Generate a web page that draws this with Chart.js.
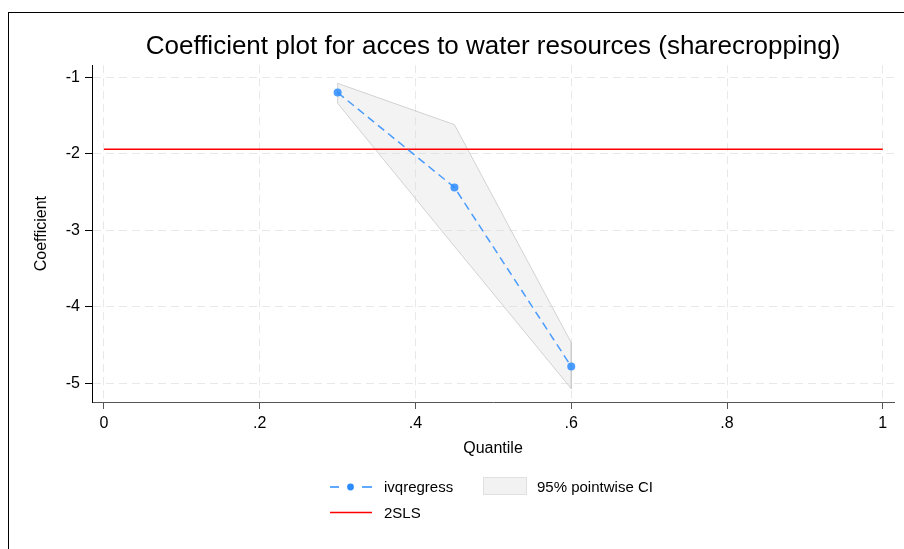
<!DOCTYPE html>
<html>
<head>
<meta charset="utf-8">
<script src="https://cdn.jsdelivr.net/npm/chart.js@4.4.1/dist/chart.umd.min.js"></script>
<style>
  html, body { margin: 0; padding: 0; background: #fff; }
  #wrap { position: relative; width: 904px; height: 549px; overflow: hidden; font-family: "Liberation Sans", Arial, sans-serif; }
  #frame { position: absolute; left: 8px; top: 12px; width: 1000px; height: 1000px; border-left: 1px solid #000; border-top: 1px solid #000; }
  #chart { position: absolute; left: 0; top: 0; }
  #legend { position: absolute; left: 0; top: 0; }
</style>
</head>
<body>
<div id="wrap">
  <div id="frame"></div>
  <canvas id="chart" width="904" height="549"></canvas>
  <svg id="legend" width="904" height="549" font-family="Liberation Sans, Arial, sans-serif" font-size="15">
    <line x1="330" y1="487" x2="339" y2="487" stroke="#2b8cff" stroke-width="1.5"/>
    <circle cx="350.5" cy="487" r="3.4" fill="#2b8cff"/>
    <line x1="362" y1="487" x2="372" y2="487" stroke="#2b8cff" stroke-width="1.5"/>
    <text x="384" y="492">ivqregress</text>
    <rect x="483.5" y="477.5" width="43" height="17" fill="#f2f2f2" stroke="#e0e0e0"/>
    <text x="537" y="492">95% pointwise CI</text>
    <line x1="330" y1="512.5" x2="372" y2="512.5" stroke="#ff0000" stroke-width="1.5"/>
    <text x="384" y="518">2SLS</text>
  </svg>
</div>
<script>
// values
const quantiles = [0.3, 0.45, 0.6];
const coefs = [-1.20, -2.44, -4.78];
const ciUpper = [-1.08, -1.62, -4.47];
const ciLower = [-1.34, -3.21, -5.07];
const tslsValue = -1.94;
const tslsRange = [0, 1];
const xTicks = [0, 0.2, 0.4, 0.6, 0.8, 1];
const yTicks = [-5, -4, -3, -2, -1];

const FONT = '"Liberation Sans", Arial, sans-serif';

// CI band as a closed polygon: upper edge then lower edge back
const ciShape = quantiles.map((q, i) => ({x: q, y: ciUpper[i]}))
    .concat(quantiles.map((q, i) => ({x: q, y: ciLower[i]})).reverse());
ciShape.push(ciShape[0]);

// centre the title over the plot region, like Stata does
const centerTitle = {
    id: 'centerTitle',
    afterLayout(chart) {
        chart.titleBlock.left = chart.chartArea.left;
        chart.titleBlock.right = chart.chartArea.right;
    }
};

new Chart(document.getElementById('chart'), {
    type: 'line',
    data: {
        datasets: [
            {
                label: 'ivqregress',
                data: quantiles.map((q, i) => ({x: q, y: coefs[i]})),
                borderColor: 'rgba(43,140,255,0.85)',
                backgroundColor: 'rgba(43,140,255,0.85)',
                borderWidth: 1.5,
                borderDash: [8, 5],
                pointRadius: 4,
                pointBorderWidth: 0,
                fill: false,
                order: 1
            },
            {
                label: '2SLS',
                data: tslsRange.map(q => ({x: q, y: tslsValue})),
                borderColor: '#ff0000',
                borderWidth: 1.5,
                pointRadius: 0,
                fill: false,
                order: 2
            },
            {
                label: '95% pointwise CI',
                data: ciShape,
                borderColor: 'rgba(200,200,200,0.8)',
                backgroundColor: 'rgba(215,215,215,0.3)',
                borderWidth: 1,
                pointRadius: 0,
                fill: 'shape',
                order: 3
            }
        ]
    },
    options: {
        responsive: false,
        animation: false,
        layout: { padding: { left: 28, right: 10, top: 0, bottom: 87 } },
        plugins: {
            legend: { display: false },
            tooltip: { enabled: false },
            title: {
                display: true,
                text: 'Coefficient plot for acces to water resources (sharecropping)',
                color: '#000',
                font: { family: FONT, size: 26, weight: 'normal' },
                padding: { top: 31, bottom: 3 }
            }
        },
        scales: {
            x: {
                type: 'linear',
                min: -0.0154,
                max: 1.0144,
                afterBuildTicks: s => { s.ticks = xTicks.map(v => ({value: v})); },
                afterFit: s => { s.height = 60; },
                ticks: {
                    color: '#000',
                    font: { family: FONT, size: 16 },
                    padding: 5,
                    maxRotation: 0,
                    autoSkip: false,
                    callback: v => (v === 0 || v === 1) ? String(v) : String(v).replace(/^0/, '')
                },
                grid: { color: '#e8e8e8', lineWidth: 1, tickColor: '#555', tickLength: 7, tickBorderDash: [] },
                border: { color: '#555', width: 1, dash: [8, 5] },
                title: { display: true, text: 'Quantile', color: '#000', font: { family: FONT, size: 16 } }
            },
            y: {
                type: 'linear',
                min: -5.244,
                max: -0.843,
                afterBuildTicks: s => { s.ticks = yTicks.map(v => ({value: v})); },
                afterFit: s => { s.width = 64; },
                ticks: {
                    color: '#000',
                    font: { family: FONT, size: 16 },
                    padding: 5,
                    autoSkip: false
                },
                grid: { color: '#e8e8e8', lineWidth: 1, tickColor: '#000', tickLength: 7, tickBorderDash: [] },
                border: { color: '#000', width: 1, dash: [8, 5] },
                title: { display: true, text: 'Coefficient', color: '#000', font: { family: FONT, size: 16 } }
            }
        }
    },
    plugins: [centerTitle]
});
</script>
</body>
</html>
